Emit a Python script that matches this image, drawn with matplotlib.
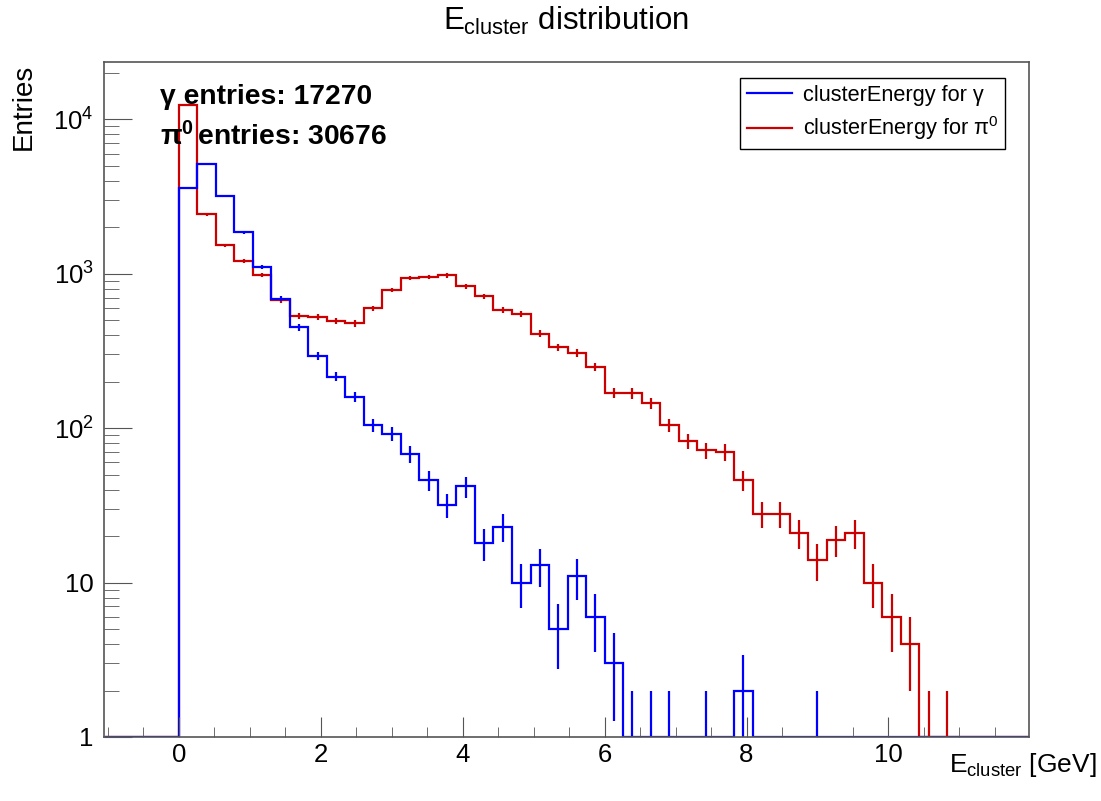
import numpy as np
import matplotlib
matplotlib.use("Agg")
import matplotlib.pyplot as plt
from matplotlib.ticker import LogLocator, FixedLocator, MultipleLocator, NullFormatter

plt.rcParams['font.family'] = ['Liberation Sans', 'DejaVu Sans']
plt.rcParams['mathtext.fontset'] = 'custom'
plt.rcParams['mathtext.rm'] = 'Liberation Sans'
plt.rcParams['mathtext.it'] = 'Liberation Sans'
plt.rcParams['mathtext.bf'] = 'Liberation Sans:bold'

# histogram binning (50 bins, edge at 0)
x_lo, x_hi, n_bins = -1.0435, 12.0, 50
n_under = 4  # empty bins below E = 0

# bin contents from E = 0 upward
gamma_counts = [3600, 5120, 3190, 1850, 1100, 690, 450, 292, 216, 160,
                105, 92, 68, 46, 32, 42, 18, 23, 10, 13,
                5, 11, 6, 3, 1, 1, 1, 0, 1, 0,
                2, 0, 0, 0, 1, 0, 0, 0, 0, 0,
                0, 0, 0, 0, 0, 0]
pi0_counts = [12340, 2430, 1530, 1215, 985, 675, 535, 522, 495, 477,
              597, 785, 939, 950, 975, 829, 714, 585, 551, 409,
              334, 307, 250, 170, 168, 145, 105, 82, 72, 70,
              46, 28, 28, 21, 14, 19, 21, 10, 6, 4,
              1, 1, 0, 0, 0, 0]

gamma_entries = 17270
pi0_entries = 30676

edges = np.linspace(x_lo, x_hi, n_bins + 1)
centers = 0.5 * (edges[:-1] + edges[1:])
gamma = np.array([0] * n_under + gamma_counts, dtype=float)
pi0 = np.array([0] * n_under + pi0_counts, dtype=float)

blue = '#0000ff'
red = '#cc0000'
frame_col = '#555555'

fig = plt.figure(figsize=(11.01, 8.01), dpi=100)
ax = fig.add_axes([103.5 / 1101, 1 - 737 / 801, (1029 - 103.5) / 1101, (737 - 62) / 801])
ymin, ymax = 1.0, 23500


def draw_hist(counts, color, label):
    shown = np.maximum(counts, ymin)
    h = ax.stairs(shown, edges, baseline=None, color=color, lw=1.6, label=label)
    m = counts > 0
    err = np.sqrt(counts[m])
    lo = np.maximum(counts[m] - err, 0.05)
    hi = counts[m] + err
    ax.vlines(centers[m], lo, hi, color=color, lw=1.6)
    return h


h_pi0 = draw_hist(pi0, red, r'clusterEnergy for π$^{0}$')
h_gam = draw_hist(gamma, blue, r'clusterEnergy for γ')

ax.set_yscale('log')
ax.set_xlim(-1.06, 11.98)
ax.set_ylim(ymin, ymax)

ax.xaxis.set_major_locator(FixedLocator([0, 2, 4, 6, 8, 10]))
ax.xaxis.set_minor_locator(MultipleLocator(0.5))
ax.set_xticklabels(['0', '2', '4', '6', '8', '10'])
ax.yaxis.set_major_locator(FixedLocator([1, 10, 100, 1000, 10000]))
ax.set_yticklabels(['1', '10', r'$10^{2}$', r'$10^{3}$', r'$10^{4}$'])
ax.yaxis.set_minor_locator(LogLocator(base=10, subs=np.arange(2, 10)))
ax.yaxis.set_minor_formatter(NullFormatter())

ax.tick_params(axis='both', which='both', direction='in', colors=frame_col,
               labelcolor='black', labelsize=18.5, top=False, right=False)
ax.tick_params(axis='y', which='major', length=20.5, pad=7)
ax.tick_params(axis='y', which='minor', length=11)
ax.tick_params(axis='x', which='major', length=14.5, pad=4)
ax.tick_params(axis='x', which='minor', length=7.2)
for s in ax.spines.values():
    s.set_color(frame_col)
    s.set_linewidth(1.2)

fig.text(566 / 1101, 1 - 21 / 801, r'$E_{cluster}$ distribution', ha='center',
         va='center', fontsize=22.5)
fig.text(24 / 1101, 1 - 64 / 801, 'Entries', rotation=90, ha='center', va='top',
         fontsize=20)
fig.text(1097 / 1101, 1 - 772 / 801, r'$E_{cluster}$ [GeV]', ha='right',
         va='baseline', fontsize=19)

ax.text(160 / 1101, 1 - 97 / 801, f'γ entries: {gamma_entries}', transform=fig.transFigure,
        ha='left', va='center', fontsize=20.3, fontweight='bold')
ax.text(160 / 1101, 1 - 137 / 801, r'π$^{\mathbf{0}}\,$' + f'entries: {pi0_entries}',
        transform=fig.transFigure, ha='left', va='center', fontsize=20.3, fontweight='bold')

leg = ax.legend(handles=[h_gam, h_pi0], loc='upper left',
                bbox_to_anchor=(740 / 1101, 1 - 78 / 801), bbox_transform=fig.transFigure,
                fancybox=False, edgecolor='black', framealpha=1, fontsize=15.7,
                handlelength=2.1, handletextpad=0.5, borderpad=0.3, labelspacing=0.4,
                borderaxespad=0)
leg.get_frame().set_linewidth(1.0)
for line in leg.get_lines():
    line.set_linewidth(1.6)

fig.savefig('out.png', dpi=100)
